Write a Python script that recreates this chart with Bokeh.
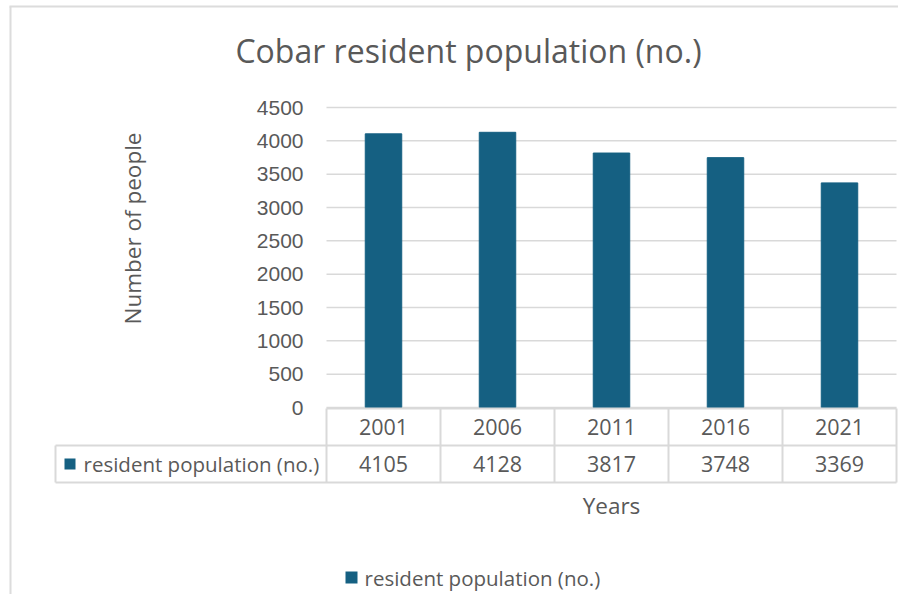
import math
from bokeh.plotting import figure
from bokeh.models import Range1d
from bokeh.embed import file_html
from bokeh.resources import INLINE
from bokeh.core.properties import value

# ---- data ----
years = ["2001", "2006", "2011", "2016", "2021"]
population = [4105, 4128, 3817, 3748, 3369]
y_ticks = [0, 500, 1000, 1500, 2000, 2500, 3000, 3500, 4000, 4500]
series_name = "resident population (no.)"
chart_title = "Cobar resident population (no.)"
x_title = "Years"
y_title = "Number of people"

# ---- style ----
BAR = "#156082"
TXT = "#595959"
GRID = "#d9d9d9"
BORDER = "#dcdcdc"
FONT = "Open Sans"
TICK_FONT = "Liberation Sans"

# ---- layout (picture pixels, canvas origin at top-left) ----
ORG_X, ORG_Y = 0, 0
W, H = 898, 594
PLOT_L, PLOT_R = 326, 896
PLOT_B, TOP_TICK_Y = 407, 107
n = len(years)
CAT_W = (PLOT_R - PLOT_L) / n          # px per category
C0 = PLOT_L + CAT_W / 2                # centre of first category
UPP = y_ticks[-1] / (PLOT_B - TOP_TICK_Y)  # data units per px


def cx(px):
    return (px - C0) / CAT_W


def cy(py):
    return (PLOT_B - py) * UPP


p = figure(width=W, height=H,
           x_range=Range1d(cx(ORG_X), cx(ORG_X + W)),
           y_range=Range1d(cy(ORG_Y + H), cy(ORG_Y)),
           min_border=0, x_axis_location=None, y_axis_location=None,
           output_backend="svg", toolbar_location=None)
p.outline_line_color = None
p.grid.visible = False
p.background_fill_color = "white"
p.border_fill_color = "white"

idx = list(range(n))

# chart border (left + top)
p.segment(x0=[cx(10), cx(9)], y0=[cy(ORG_Y + H), cy(6)],
          x1=[cx(10), cx(ORG_X + W)], y1=[cy(6), cy(6)],
          line_color=BORDER, line_width=2)

# gridlines
p.segment(x0=[-0.5] * len(y_ticks), y0=y_ticks, x1=[n - 0.5] * len(y_ticks), y1=y_ticks,
          line_color=GRID, line_width=1.5)

# y tick labels
p.text(x=[cx(303)] * len(y_ticks), y=y_ticks, text=[str(t) for t in y_ticks],
       text_align="right", text_baseline="middle", text_font=value(TICK_FONT),
       text_font_size="21px", text_color=TXT)

# bars
p.vbar(x=idx, top=population, width=0.32, color=BAR)

# title
p.text(x=[cx(468)], y=[cy(50)], text=[chart_title], text_align="center",
       text_baseline="middle", text_font=value(FONT), text_font_size="32px", text_color=TXT)

# y axis title
p.text(x=[cx(132)], y=[cy(228)], text=[y_title], angle=math.pi / 2, text_align="center",
       text_baseline="middle", text_font=value(FONT), text_font_size="22.5px", text_color=TXT)

# ---- data table ----
ROW_T, ROW_M, ROW_B = cy(408), cy(445), cy(482)
LABEL_L = cx(55)
edges = [i - 0.5 for i in range(n + 1)]

p.segment(x0=[-0.5, LABEL_L, LABEL_L], y0=[ROW_T, ROW_M, ROW_B],
          x1=[n - 0.5] * 3, y1=[ROW_T, ROW_M, ROW_B], line_color=GRID, line_width=2)
p.segment(x0=edges + [LABEL_L], y0=[ROW_T] * (n + 1) + [ROW_M],
          x1=edges + [LABEL_L], y1=[ROW_B] * (n + 2), line_color=GRID, line_width=2)

p.text(x=idx, y=[(ROW_T + ROW_M) / 2] * n, text=years, text_align="center",
       text_baseline="middle", text_font=value(FONT), text_font_size="21.5px", text_color=TXT)
p.text(x=idx, y=[(ROW_M + ROW_B) / 2] * n, text=[str(v) for v in population],
       text_align="center", text_baseline="middle", text_font=value(FONT),
       text_font_size="21.5px", text_color=TXT)

p.scatter(x=[cx(69.5)], y=[(ROW_M + ROW_B) / 2], marker="square", size=11,
          color=BAR, line_color=None)
p.text(x=[cx(83)], y=[(ROW_M + ROW_B) / 2], text=[series_name], text_align="left",
       text_baseline="middle", text_font=value(FONT), text_font_size="20.5px", text_color=TXT)

# x axis title
p.text(x=[(n - 1) / 2], y=[cy(505)], text=[x_title], text_align="center",
       text_baseline="middle", text_font=value(FONT), text_font_size="22.5px", text_color=TXT)

# legend
p.scatter(x=[cx(351)], y=[cy(577)], marker="square", size=12, color=BAR, line_color=None)
p.text(x=[cx(364)], y=[cy(577)], text=[series_name], text_align="left",
       text_baseline="middle", text_font=value(FONT), text_font_size="20.5px", text_color=TXT)

open("out.html", "w").write(file_html(p, INLINE))
